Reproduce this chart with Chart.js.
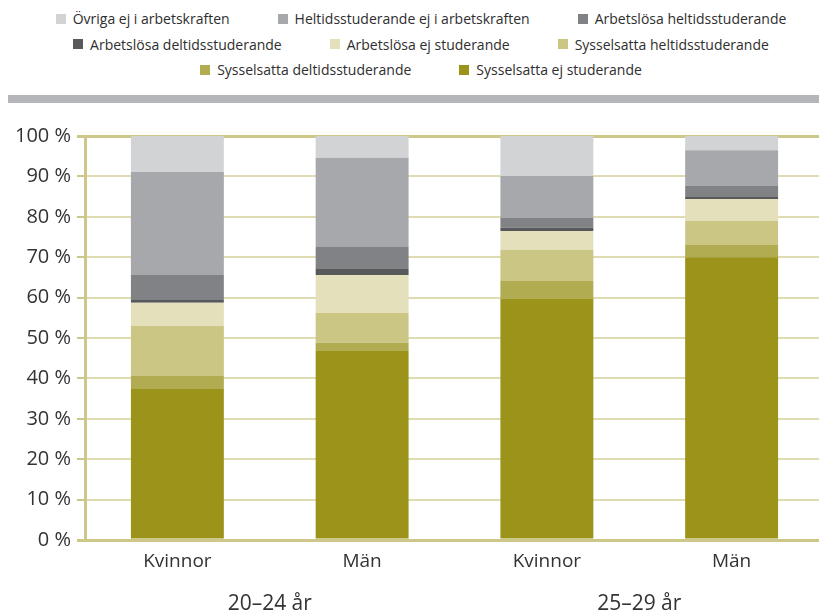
<!DOCTYPE html>
<html>
<head>
<meta charset="utf-8">
<script src="https://cdn.jsdelivr.net/npm/chart.js@4.4.0/dist/chart.umd.min.js"></script>
<style>
  html, body { margin: 0; padding: 0; background: #fff; overflow: hidden; }
  #wrap { position: absolute; left: 0; top: 0; width: 824px; height: 614px; }
  #legend { position: absolute; left: 0; top: 6px; width: 842px; font-family: 'Open Sans', sans-serif; font-size: 14px; color: #2e2e2e; }
  .row { display: flex; justify-content: center; column-gap: 48px; height: 25.5px; align-items: center; }
  .item { display: flex; align-items: center; white-space: nowrap; }
  .box { width: 10px; height: 10px; margin-right: 7px; }
  #band { position: absolute; left: 8px; top: 95px; width: 811px; height: 8px; background: #b5b6b9; }
</style>
</head>
<body>
<div id="legend"></div>
<div id="band"></div>
<div id="wrap"><canvas id="myChart"></canvas></div>
<script>
const categories = ['Kvinnor', 'Män', 'Kvinnor', 'Män'];
const ageGroups = ['20–24 år', '25–29 år'];
const yTicks = [0, 10, 20, 30, 40, 50, 60, 70, 80, 90, 100];

// stacked from the bottom up, values in percent
const sysselsattaEjStud = [37.4, 46.8, 59.7, 70.0];
const sysselsattaDeltid = [3.3, 2.0, 4.4, 3.0];
const sysselsattaHeltid = [12.3, 7.4, 7.7, 6.0];
const arbetslosaEjStud = [5.7, 9.4, 4.7, 5.4];
const arbetslosaDeltid = [0.7, 1.5, 0.8, 0.5];
const arbetslosaHeltid = [6.2, 5.4, 2.4, 2.7];
const heltidsstudEjAk = [25.5, 22.1, 10.4, 8.9];
const ovriga = [8.9, 5.4, 9.9, 3.5];

const datasets = [
    { label: 'Sysselsatta ej studerande', data: sysselsattaEjStud, backgroundColor: '#9b931a' },
    { label: 'Sysselsatta deltidsstuderande', data: sysselsattaDeltid, backgroundColor: '#b1ab52' },
    { label: 'Sysselsatta heltidsstuderande', data: sysselsattaHeltid, backgroundColor: '#cbc683' },
    { label: 'Arbetslösa ej studerande', data: arbetslosaEjStud, backgroundColor: '#e3e0bb' },
    { label: 'Arbetslösa deltidsstuderande', data: arbetslosaDeltid, backgroundColor: '#58595b' },
    { label: 'Arbetslösa heltidsstuderande', data: arbetslosaHeltid, backgroundColor: '#818285' },
    { label: 'Heltidsstuderande ej i arbetskraften', data: heltidsstudEjAk, backgroundColor: '#a7a8ab' },
    { label: 'Övriga ej i arbetskraften', data: ovriga, backgroundColor: '#d2d3d5' }
];

// html legend, top series first
const legendRows = [[7, 6, 5], [4, 3, 2], [1, 0]];
const legendEl = document.getElementById('legend');
legendRows.forEach(r => {
    const row = document.createElement('div');
    row.className = 'row';
    r.forEach(i => {
        const it = document.createElement('div');
        it.className = 'item';
        it.innerHTML = '<span class="box" style="background:' + datasets[i].backgroundColor + '"></span>' + datasets[i].label;
        row.appendChild(it);
    });
    legendEl.appendChild(row);
});

const olive = '#cdc88a';
const oliveLight = '#e0dcb2';
const edge = v => v === 0 || v === 100;

const ctx = document.getElementById('myChart').getContext('2d');
new Chart(ctx, {
    type: 'bar',
    data: {
        labels: categories,
        datasets: datasets.map(d => Object.assign({ borderWidth: 0, barPercentage: 0.503, categoryPercentage: 1 }, d))
    },
    options: {
        responsive: true,
        maintainAspectRatio: false,
        animation: false,
        layout: { padding: { top: 136, left: 0, right: 0, bottom: 0 } },
        plugins: {
            legend: { display: false },
            tooltip: { enabled: false }
        },
        scales: {
            x: {
                stacked: true,
                afterFit: s => { s.height = 33; },
                grid: { display: false, drawTicks: false },
                border: { display: true, color: olive, width: 3 },
                ticks: { padding: 10, color: '#333', font: { family: 'Open Sans', size: 19 } }
            },
            x2: {
                type: 'category',
                labels: ageGroups,
                position: 'bottom',
                offset: true,
                afterFit: s => { s.height = 41; },
                grid: { display: false, drawTicks: false },
                border: { display: false },
                ticks: { padding: 21, color: '#333', font: { family: 'Open Sans', size: 21, lineHeight: 1 } }
            },
            y: {
                stacked: true,
                min: 0,
                max: 100,
                afterFit: s => { s.width = 85; },
                afterBuildTicks: s => { s.ticks = yTicks.map(v => ({ value: v })); },
                grid: {
                    tickLength: 8,
                    color: c => edge(c.tick.value) ? olive : oliveLight,
                    lineWidth: c => edge(c.tick.value) ? 3 : 2,
                    tickColor: olive,
                    tickWidth: c => edge(c.tick.value) ? 3 : 2
                },
                border: { display: true, color: olive, width: 3 },
                ticks: {
                    padding: 6,
                    color: '#333',
                    font: { family: 'Open Sans', size: 20 },
                    callback: v => v + ' %'
                }
            }
        }
    }
});
</script>
</body>
</html>
